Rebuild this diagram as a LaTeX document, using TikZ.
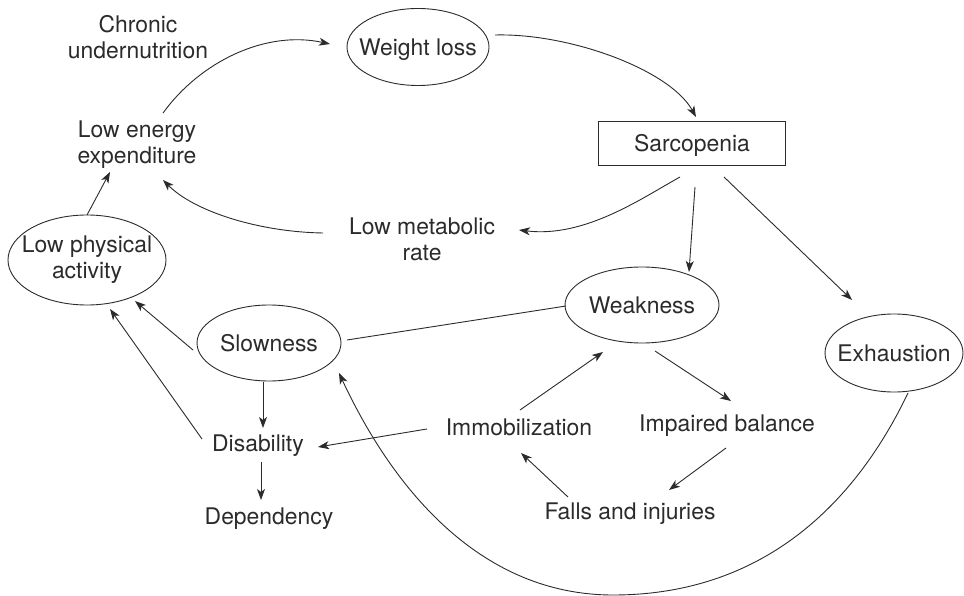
\documentclass[tikz,border=0pt]{standalone}
\usepackage{fontspec}
\setmainfont{TeX Gyre Heros}
\usetikzlibrary{arrows.meta,shapes.geometric,calc}
\definecolor{ink}{HTML}{2B2B2B}
\begin{document}
\begin{tikzpicture}[x=1pt,y=-1pt,line width=0.9pt,
  every node/.style={font=\fontsize{22.9}{26}\selectfont,text=ink},
  txt/.style={inner sep=0pt,text height=16.4pt,text depth=0pt},
  mtxt/.style={inner sep=0pt,align=center},
  ell/.style={draw=ink,ellipse,inner sep=0pt},
  boxed/.style={draw=ink,rectangle,inner sep=0pt},
  arr/.style={draw=ink,-{Stealth[length=11pt,width=8pt,inset=3pt]}},
  con/.style={draw=ink}]
\useasboundingbox (0,0) rectangle (964,596);

% nodes
\node[mtxt] (chronic) at (138,36.7) {Chronic\\undernutrition};
\node[mtxt] (lowE) at (137,145) {Low energy\\expenditure};
\node[ell,minimum width=158pt,minimum height=90pt,
  label={[mtxt]center:Low physical\\activity}] (lowP) at (87,260) {};
\node[ell,minimum width=142pt,minimum height=77pt,
  label={[txt]center:Weight loss}] (wl) at (418,47) {};
\node[boxed,minimum width=187pt,minimum height=44pt,
  label={[txt]center:Sarcopenia}] (sarc) at (692,143) {};
\node[mtxt] (lowM) at (422,239) {Low metabolic\\rate};
\node[ell,minimum width=154pt,minimum height=76pt,
  label={[txt]center:Weakness}] (weak) at (642,305) {};
\node[ell,minimum width=138pt,minimum height=78pt,
  label={[txt]center:Exhaustion}] (exh) at (894,353) {};
\node[ell,minimum width=144pt,minimum height=76pt,
  label={[txt]center:Slowness}] (slow) at (269,343) {};
\node[txt] (disab) at (258,443.5) {Disability};
\node[txt] (dep) at (269,516) {Dependency};
\node[txt] (immob) at (519,427.5) {Immobilization};
\node[txt] (imp) at (727,423) {Impaired balance};
\node[txt] (falls) at (630,511) {Falls and injuries};
\coordinate (bottom) at (613,595);

% connectors
\draw[arr] ($(lowE)+(26,-32)$) .. controls (200,62) and (265,30) .. ($(wl)+(-88,-3)$);
\draw[arr] ($(wl)+(77,-12)$) .. controls (570,33) and (670,70) .. ($(sarc)+(4,-26)$);
\draw[arr] ($(sarc)+(-12,34)$) .. controls (642,198) and (585,238) .. ($(lowM)+(97,-9)$);
\draw[arr] ($(lowM)+(-99,-6)$) .. controls (260,232) and (195,212) .. ($(lowE)+(26,35)$);
\draw[arr] ($(lowP)+(0,-45)$) -- ($(lowE)+(-27,27)$);
\draw[arr] ($(sarc)+(3,44)$) -- ($(weak)+(47,-33)$);
\draw[arr] ($(sarc)+(32,34)$) -- ($(exh)+(-42,-53)$);
\draw[con] ($(slow)+(78,-3)$) -- ($(weak)+(-76,1)$);
\draw[arr] ($(slow)+(-76,7)$) -- ($(lowP)+(48,41)$);
\draw[arr] ($(disab)+(-56,-4.5)$) -- ($(lowP)+(23,49)$);
\draw[arr] ($(slow)+(-6,39)$) -- ($(disab)+(5,-15.5)$);
\draw[arr] ($(disab)+(3,18.5)$) -- ($(dep)+(-8,-16)$);
\draw[arr] ($(immob)+(-92,1.5)$) -- ($(disab)+(60,3.5)$);
\draw[arr] ($(immob)+(1,-17.5)$) -- ($(weak)+(-39,47)$);
\draw[arr] ($(weak)+(13,46)$) -- ($(imp)+(4,-22)$);
\draw[arr] ($(imp)+(-1,25)$) -- ($(falls)+(39,-21)$);
\draw[arr] ($(falls)+(-62,-14)$) -- ($(immob)+(2,25.5)$);
\draw[arr] ($(exh)+(14,40)$) .. controls (855,504) and (763,595) .. (bottom)
  .. controls (483,595) and (395,493) .. ($(slow)+(70,30)$);
\end{tikzpicture}
\end{document}
